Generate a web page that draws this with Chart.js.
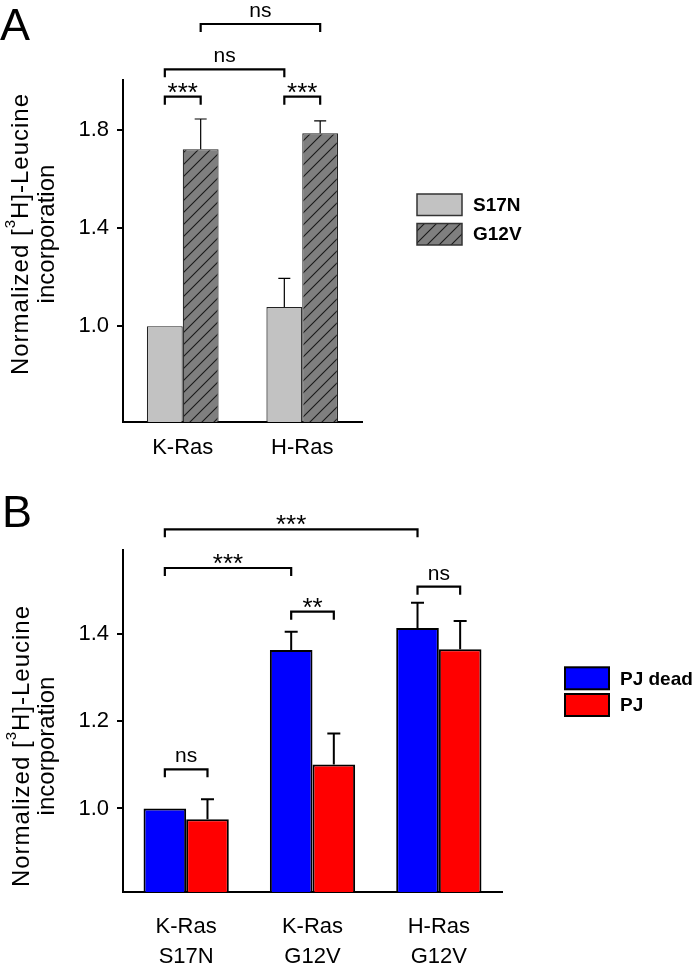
<!DOCTYPE html>
<html><head><meta charset="utf-8">
<script src="https://cdn.jsdelivr.net/npm/chart.js@4/dist/chart.umd.min.js"></script>
<style>
html,body{margin:0;padding:0;background:#fff;}
#wrap{position:relative;width:693px;height:972px;overflow:hidden;}
#cA{position:absolute;left:0;top:0;}
#cB{position:absolute;left:0;top:480px;}
</style></head><body>
<div id="wrap">
<canvas id="cA" width="693" height="480"></canvas>
<canvas id="cB" width="693" height="492"></canvas>
</div>
<script>
// ---------- Panel A data ----------
const categoriesA = ['K-Ras', 'H-Ras'];
const seriesA_S17N = [1.0, 1.078];
const seriesA_G12V = [1.722, 1.787];
const errA_S17N = [0, 0.117];
const errA_G12V = [0.123, 0.05];
const ticksA = [1.0, 1.4, 1.8];
const sigA = [
  {from: [0, 0], to: [1, 0], label: '***'},
  {from: [0, 1], to: [1, 1], label: '***'},
  {from: [0, 0], to: [0, 1], label: 'ns'},
  {from: [1, 0], to: [1, 1], label: 'ns'}
];

// ---------- Panel B data ----------
const categoriesB = [['K-Ras', 'S17N'], ['K-Ras', 'G12V'], ['H-Ras', 'G12V']];
const seriesB_PJdead = [1.0, 1.364, 1.415];
const seriesB_PJ = [0.975, 1.101, 1.366];
const errB_PJdead = [0, 0.042, 0.058];
const errB_PJ = [0.046, 0.071, 0.065];
const ticksB = [1.0, 1.2, 1.4];
const sigB = [
  {from: [0, 0], to: [0, 2], label: '***'},
  {from: [0, 0], to: [0, 1], label: '***'},
  {from: [0, 1], to: [1, 1], label: '**'},
  {from: [0, 2], to: [1, 2], label: 'ns'},
  {from: [0, 0], to: [1, 0], label: 'ns'}
];

const FAM = '"Liberation Sans", Arial, Helvetica, sans-serif';

function hatchPattern(ctx) {
  const s = 12;
  const c = document.createElement('canvas');
  c.width = s; c.height = s;
  const g = c.getContext('2d');
  g.fillStyle = '#7f7f7f';
  g.fillRect(0, 0, s, s);
  g.strokeStyle = '#1a1a1a';
  g.lineWidth = 1.1;
  g.beginPath();
  g.moveTo(0, s); g.lineTo(s, 0);
  g.moveTo(-2, 2); g.lineTo(2, -2);
  g.moveTo(s - 2, s + 2); g.lineTo(s + 2, s - 2);
  g.stroke();
  return ctx.createPattern(c, 'repeat');
}

const annot = {
  id: 'annot',
  afterDraw(chart, args, o) {
    const ctx = chart.ctx;
    const ys = chart.scales.y;
    ctx.save();
    // error bars
    o.errors.forEach((errs, di) => {
      const meta = chart.getDatasetMeta(di);
      meta.data.forEach((bar, i) => {
        const e = errs[i];
        if (!e) return;
        const v = chart.data.datasets[di].data[i];
        const yt = ys.getPixelForValue(v + e);
        ctx.strokeStyle = '#000';
        ctx.lineWidth = o.errWidth;
        ctx.beginPath();
        ctx.moveTo(bar.x, bar.y);
        ctx.lineTo(bar.x, yt);
        ctx.moveTo(bar.x - o.capHalf, yt);
        ctx.lineTo(bar.x + o.capHalf, yt);
        ctx.stroke();
      });
    });
    // significance brackets
    o.sig.forEach((s, k) => {
      const b1 = chart.getDatasetMeta(s.from[0]).data[s.from[1]];
      const b2 = chart.getDatasetMeta(s.to[0]).data[s.to[1]];
      const yl = o.levels[k];
      ctx.strokeStyle = '#000';
      ctx.lineWidth = 2.2;
      ctx.lineJoin = 'miter';
      ctx.lineCap = 'butt';
      ctx.beginPath();
      ctx.moveTo(b1.x, yl + 8);
      ctx.lineTo(b1.x, yl);
      ctx.lineTo(b2.x, yl);
      ctx.lineTo(b2.x, yl + 8);
      ctx.stroke();
      const star = s.label.charAt(0) === '*';
      ctx.fillStyle = '#000';
      ctx.textAlign = 'center';
      ctx.textBaseline = 'alphabetic';
      ctx.font = star ? '26px ' + FAM : '21px ' + FAM;
      ctx.fillText(s.label, (b1.x + b2.x) / 2, star ? yl + 4 : yl - 7);
    });
    // legend
    chart.data.datasets.forEach((ds, i) => {
      const x = o.legend.x, y = o.legend.y + i * o.legend.step;
      ctx.fillStyle = ds.backgroundColor;
      ctx.fillRect(x, y, o.legend.w, o.legend.h);
      ctx.strokeStyle = o.legend.border;
      ctx.lineWidth = o.legend.bw;
      ctx.strokeRect(x, y, o.legend.w, o.legend.h);
      ctx.fillStyle = '#000';
      ctx.font = 'bold 19px ' + FAM;
      ctx.textAlign = 'left';
      ctx.textBaseline = 'middle';
      ctx.fillText(ds.label, x + o.legend.w + 11, y + o.legend.h / 2 + 1);
    });
    // y-axis title (two lines, with superscript)
    ctx.save();
    ctx.translate(o.title.x1, o.title.cy);
    ctx.rotate(-Math.PI / 2);
    ctx.fillStyle = '#000';
    ctx.textBaseline = 'middle';
    ctx.textAlign = 'left';
    const F = o.title.size + 'px ' + FAM;
    const FS = Math.round(o.title.size * 0.62) + 'px ' + FAM;
    ctx.letterSpacing = o.title.spacing + 'px';
    ctx.font = F;
    const p1 = 'Normalized [', p2 = 'H]-Leucine';
    const w1 = ctx.measureText(p1).width, w2 = ctx.measureText(p2).width;
    ctx.font = FS;
    const w3 = ctx.measureText('3').width;
    let sx = -(w1 + w2 + w3) / 2;
    ctx.font = F;
    ctx.fillText(p1, sx, 0);
    ctx.font = FS;
    ctx.fillText('3', sx + w1, -o.title.size * 0.42);
    ctx.font = F;
    ctx.fillText(p2, sx + w1 + w3, 0);
    ctx.letterSpacing = '0px';
    ctx.textAlign = 'center';
    ctx.fillText('incorporation', 0, o.title.x2 - o.title.x1);
    ctx.restore();
    // panel letter
    ctx.fillStyle = '#000';
    ctx.font = '45px ' + FAM;
    ctx.textAlign = 'left';
    ctx.textBaseline = 'alphabetic';
    ctx.fillText(o.letter.t, o.letter.x, o.letter.y);
    ctx.restore();
  }
};

function yScale(min, max, ticks) {
  return {
    min: min, max: max,
    afterBuildTicks(s) { s.ticks = ticks.map(v => ({value: v})); },
    afterFit(s) { s.width = 123; },
    grid: {drawOnChartArea: false, drawTicks: true, tickLength: 6, color: '#000', lineWidth: 2},
    border: {display: true, color: '#000', width: 2},
    ticks: {color: '#000', font: {size: 22, family: FAM}, padding: 8, callback: v => Number(v).toFixed(1)}
  };
}

// ---------- Chart A ----------
const ctxA = document.getElementById('cA').getContext('2d');
new Chart(ctxA, {
  type: 'bar',
  data: {
    labels: categoriesA,
    datasets: [
      {label: 'S17N', data: seriesA_S17N, backgroundColor: '#c2c2c2', borderColor: '#222', borderWidth: 1.2},
      {label: 'G12V', data: seriesA_G12V, backgroundColor: hatchPattern(ctxA), borderColor: '#222', borderWidth: 1.2}
    ]
  },
  options: {
    responsive: false, animation: false, devicePixelRatio: 1,
    layout: {padding: {top: 80, right: 331, left: 0, bottom: 0}},
    datasets: {bar: {categoryPercentage: 0.6, barPercentage: 1.0}},
    plugins: {
      legend: {display: false}, tooltip: {enabled: false},
      annot: {
        errors: [errA_S17N, errA_G12V], errWidth: 1.2, capHalf: 6,
        sig: sigA, levels: [96.7, 96.7, 69.3, 24],
        legend: {x: 417, y: 194, step: 29.5, w: 45, h: 21.5, border: '#333', bw: 1.5},
        title: {x1: 21, x2: 47.5, cy: 234, size: 24, spacing: 1},
        letter: {t: 'A', x: 0, y: 40}
      }
    },
    scales: {
      x: {
        grid: {display: false},
        border: {display: true, color: '#000', width: 2},
        ticks: {color: '#000', font: {size: 22, family: FAM}, padding: 5},
        afterFit(s) { s.height = 58; }
      },
      y: yScale(0.609, 2.004, ticksA)
    }
  },
  plugins: [annot]
});

// ---------- Chart B ----------
const ctxB = document.getElementById('cB').getContext('2d');
new Chart(ctxB, {
  type: 'bar',
  data: {
    labels: categoriesB,
    datasets: [
      {label: 'PJ dead', data: seriesB_PJdead, backgroundColor: '#0000ff', borderColor: '#000', borderWidth: 2},
      {label: 'PJ', data: seriesB_PJ, backgroundColor: '#ff0000', borderColor: '#000', borderWidth: 2}
    ]
  },
  options: {
    responsive: false, animation: false, devicePixelRatio: 1,
    layout: {padding: {top: 70, right: 191, left: 0, bottom: 0}},
    datasets: {bar: {categoryPercentage: 0.675, barPercentage: 1.0}},
    plugins: {
      legend: {display: false}, tooltip: {enabled: false},
      annot: {
        errors: [errB_PJdead, errB_PJ], errWidth: 2, capHalf: 6.5,
        sig: sigB, levels: [49.3, 88, 131.7, 106.7, 289.3],
        legend: {x: 565, y: 187.3, step: 26.7, w: 44, h: 22, border: '#000', bw: 2},
        title: {x1: 22, x2: 47.5, cy: 266, size: 24, spacing: 1},
        letter: {t: 'B', x: 2, y: 47}
      }
    },
    scales: {
      x: {
        grid: {display: false},
        border: {display: true, color: '#000', width: 2},
        ticks: {color: '#000', font: {size: 22, family: FAM, lineHeight: 1.36}, padding: 12},
        afterFit(s) { s.height = 80; }
      },
      y: yScale(0.808, 1.594, ticksB)
    }
  },
  plugins: [annot]
});
</script>
</body></html>
